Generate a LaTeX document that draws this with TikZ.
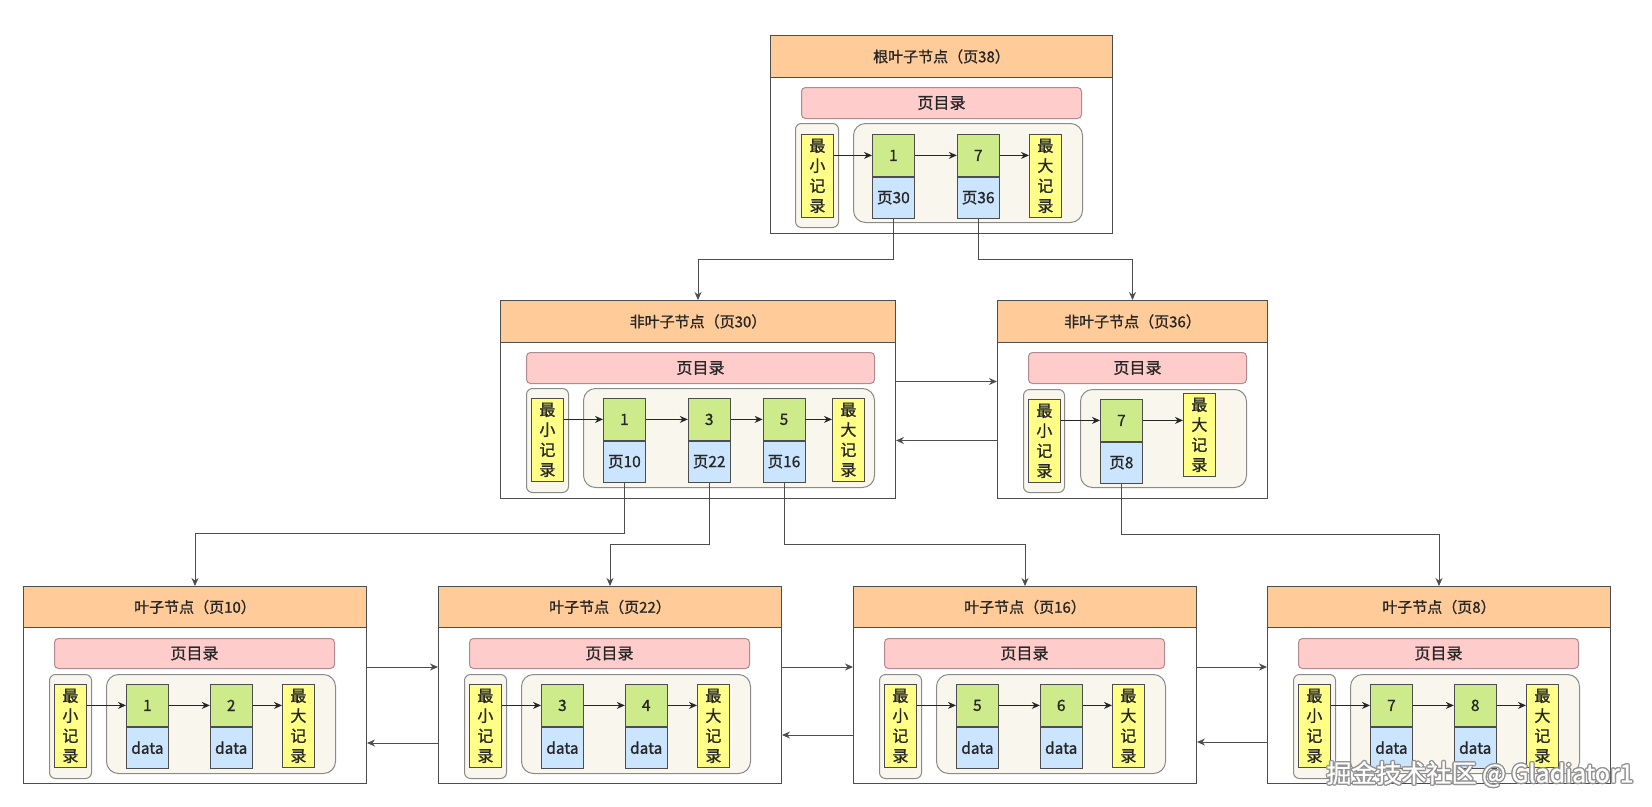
\documentclass[tikz,border=0pt]{standalone}
\usepackage{fontspec}
\setmainfont{Noto Sans CJK SC}[FakeBold=1]
\usetikzlibrary{arrows.meta,positioning}

\definecolor{edge}{HTML}{4D4D4D}
\definecolor{hdrfill}{HTML}{FFCC99}
\definecolor{dirfill}{HTML}{FFCCCC}
\definecolor{dirline}{HTML}{B08A8E}
\definecolor{grpfill}{HTML}{F9F7ED}
\definecolor{grpline}{HTML}{8A8A8A}
\definecolor{limfill}{HTML}{FFFF88}
\definecolor{keyfill}{HTML}{CDEB8B}
\definecolor{ptrfill}{HTML}{CCE5FF}
\definecolor{txt}{HTML}{262626}

\begin{document}
\begin{tikzpicture}[%
    x=1pt, y=-1pt,
    >={Stealth[length=8pt,width=7pt]},
    every node/.style={inner sep=0pt, text=txt},
    page/.style={draw=edge, line width=1pt, fill=white, anchor=north west, minimum height=198},
    header/.style={draw=edge, line width=1pt, fill=hdrfill, anchor=north west,
      minimum height=42, font=\fontsize{15}{18}\selectfont},
    directory/.style={draw=dirline, line width=1pt, fill=dirfill, rounded corners=4pt,
      anchor=north west, minimum height=31, font=\fontsize{16}{19}\selectfont},
    group/.style={draw=grpline, line width=1pt, fill=grpfill, anchor=north west},
    limit/.style={draw=edge, line width=0.8pt, fill=limfill, anchor=north west,
      minimum width=32, minimum height=83, align=center, font=\fontsize{16}{20}\selectfont},
    key/.style={draw=edge, line width=0.8pt, fill=keyfill, anchor=north west,
      minimum width=42, minimum height=42, font=\fontsize{15.5}{18}\selectfont},
    ptr/.style={draw=edge, line width=0.8pt, fill=ptrfill, minimum width=42,
      minimum height=41, font=\fontsize{15.5}{18}\selectfont},
    link/.style={->, draw=txt, line width=0.9pt},
    tree/.style={->, draw=edge, line width=1pt},
    watermark/.style={font=\fontsize{25}{28}\selectfont}
  ]
    \path[fill=white, use as bounding box] (0,0) rectangle (1652,806);

    % root page
    \begin{scope}[shift={(770,35)}]
      \node[page, minimum width=342] (R) at (0,0) {};
      \node[header, minimum width=342] (R-h) at (0,0) {根叶子节点（页38）};
      \node[directory, minimum width=280] (R-d) at (31,52) {页目录};
      \node[group, rounded corners=6pt, minimum width=43, minimum height=104] at (25,88) {};
      \node[group, rounded corners=12pt, minimum width=229, minimum height=99] at (83,88) {};
      \node[limit] (R-min) at (31,99) {最\\小\\记\\录};
      \node[key] (R-k1) at (102,99) {1};
      \node[ptr, below=0pt of R-k1] (R-p1) {页30};
      \node[key, right=42pt of R-k1] (R-k2) {7};
      \node[ptr, below=0pt of R-k2] (R-p2) {页36};
      \node[limit] (R-max) at (259,99) {最\\大\\记\\录};
      \draw[link] (R-min.east |- R-k1.west) -- (R-k1.west);
      \draw[link] (R-k1) -- (R-k2);
      \draw[link] (R-k2.east) -- (R-max.west |- R-k2.east);
    \end{scope}

    % non-leaf pages
    \begin{scope}[shift={(500,300)}]
      \node[page, minimum width=395] (N1) at (0,0) {};
      \node[header, minimum width=395] (N1-h) at (0,0) {非叶子节点（页30）};
      \node[directory, minimum width=348] (N1-d) at (26,52) {页目录};
      \node[group, rounded corners=6pt, minimum width=42, minimum height=104] at (26,88) {};
      \node[group, rounded corners=12pt, minimum width=291, minimum height=99] at (83,88) {};
      \node[limit] (N1-min) at (31,98) {最\\小\\记\\录};
      \node[key] (N1-k1) at (103,98) {1};
      \node[ptr, below=0pt of N1-k1] (N1-p1) {页10};
      \node[key, right=42pt of N1-k1] (N1-k2) {3};
      \node[ptr, below=0pt of N1-k2] (N1-p2) {页22};
      \node[key, right=32pt of N1-k2] (N1-k3) {5};
      \node[ptr, below=0pt of N1-k3] (N1-p3) {页16};
      \node[limit] (N1-max) at (332,98) {最\\大\\记\\录};
      \draw[link] (N1-min.east |- N1-k1.west) -- (N1-k1.west);
      \draw[link] (N1-k1) -- (N1-k2);
      \draw[link] (N1-k2) -- (N1-k3);
      \draw[link] (N1-k3.east) -- (N1-max.west |- N1-k3.east);
    \end{scope}

    \begin{scope}[shift={(997,300)}]
      \node[page, minimum width=270] (N2) at (0,0) {};
      \node[header, minimum width=270] (N2-h) at (0,0) {非叶子节点（页36）};
      \node[directory, minimum width=218] (N2-d) at (31,52) {页目录};
      \node[group, rounded corners=6pt, minimum width=41, minimum height=103] at (26,89) {};
      \node[group, rounded corners=12pt, minimum width=166, minimum height=98] at (83,89) {};
      \node[limit] (N2-min) at (31,99) {最\\小\\记\\录};
      \node[key] (N2-k1) at (103,99) {7};
      \node[ptr, below=0pt of N2-k1] (N2-p1) {页8};
      \node[limit] (N2-max) at (186,93) {最\\大\\记\\录};
      \draw[link] (N2-min.east |- N2-k1.west) -- (N2-k1.west);
      \draw[link] (N2-k1.east) -- (N2-max.west |- N2-k1.east);
    \end{scope}

    % leaf pages
    \foreach \i/\x/\pg/\ka/\kb in {1/23/10/1/2, 2/438/22/3/4, 3/853/16/5/6, 4/1267/8/7/8} {
      \begin{scope}[shift={(\x,586)}]
        \node[page, minimum width=343, minimum height=197] (L\i) at (0,0) {};
        \node[header, minimum width=343, minimum height=41] (L\i-h) at (0,0) {叶子节点（页\pg）};
        \node[directory, minimum width=280, minimum height=30] (L\i-d) at (31,52) {页目录};
        \node[group, rounded corners=6pt, minimum width=42, minimum height=104] at (26,88) {};
        \node[group, rounded corners=12pt, minimum width=229, minimum height=99] at (83,88) {};
        \node[limit] (L\i-min) at (31,98) {最\\小\\记\\录};
        \node[key] (L\i-k1) at (103,98) {\ka};
        \node[ptr, below=0pt of L\i-k1] (L\i-p1) {data};
        \node[key, right=41pt of L\i-k1] (L\i-k2) {\kb};
        \node[ptr, below=0pt of L\i-k2] (L\i-p2) {data};
        \node[limit] (L\i-max) at (259,98) {最\\大\\记\\录};
        \draw[link] (L\i-min.east |- L\i-k1.west) -- (L\i-k1.west);
        \draw[link] (L\i-k1) -- (L\i-k2);
        \draw[link] (L\i-k2.east) -- (L\i-max.west |- L\i-k2.east);
      \end{scope}
    }

    % page pointers
    \draw[tree] (R-p1.south) -- ++(0,41) -| (N1.north);
    \draw[tree] (R-p2.south) -- ++(0,41) -| (N2.north);
    \draw[tree] (N1-p1.south) -- ++(0,51) -| (L1.north);
    \draw[tree] (N1-p2.south) -- ++(0,62) -| (L2.north);
    \draw[tree] (N1-p3.south) -- ++(0,62) -| (L3.north);
    \draw[tree] (N2-p1.south) -- ++(0,51) -| (L4.north);

    % sibling links
    \draw[tree] ([yshift=18pt]N1.east) -- ([yshift=18pt]N2.west);
    \draw[tree] ([yshift=-41pt]N2.west) -- ([yshift=-41pt]N1.east);
    \draw[tree] ([yshift=18pt]L1.east) -- ([yshift=18pt]L2.west);
    \draw[tree] ([yshift=18pt]L2.east) -- ([yshift=18pt]L3.west);
    \draw[tree] ([yshift=18pt]L3.east) -- ([yshift=18pt]L4.west);
    \draw[tree] ([yshift=-58pt]L2.west) -- ([yshift=-58pt]L1.east);
    \draw[tree] ([yshift=-50pt]L3.west) -- ([yshift=-50pt]L2.east);
    \draw[tree] ([yshift=-57pt]L4.west) -- ([yshift=-57pt]L3.east);

    % watermark
    \foreach \dx/\dy in {-1/-1, 1/-1, -1/1, 1/1, 0/-1.4, 0/1.4, -1.4/0, 1.4/0}
      \node[watermark, text=gray!85] at (1480+\dx,774+\dy) {掘金技术社区 @ Gladiator1};
    \node[watermark, text=white] (wm) at (1480,774) {掘金技术社区 @ Gladiator1};
  \end{tikzpicture}
\end{document}
